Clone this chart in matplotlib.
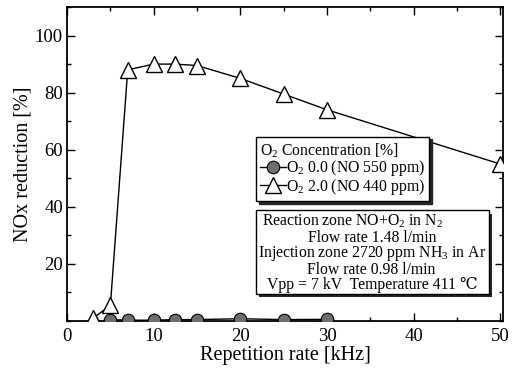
import matplotlib
matplotlib.use("Agg")
import matplotlib.pyplot as plt
from matplotlib.lines import Line2D
from matplotlib.patches import Rectangle
from matplotlib.ticker import MultipleLocator

plt.rcParams['font.family'] = ['Liberation Serif', 'DejaVu Serif']
plt.rcParams['mathtext.fontset'] = 'custom'
plt.rcParams['mathtext.rm'] = 'Liberation Serif'
plt.rcParams['mathtext.it'] = 'Liberation Serif:italic'

# O2 0.0 % (NO 550 ppm)
freq_o2_0 = [5, 7, 10, 12.5, 15, 20, 25, 30]
red_o2_0 = [0.5, 0.3, 0.3, 0.5, 0.5, 0.8, 0.5, 0.6]

# O2 2.0 % (NO 440 ppm)
freq_o2_2 = [3, 5, 7, 10, 12.5, 15, 20, 25, 30, 50]
red_o2_2 = [1, 5.5, 88, 90, 90, 89.5, 85, 79.5, 74, 55]

legend_title = "O$_2$ Concentration [%]"
label_o2_0 = "O$_2$ 0.0 (NO 550 ppm)"
label_o2_2 = "O$_2$ 2.0 (NO 440 ppm)"

cond_lines = [
    "Reaction zone NO+O$_2$ in N$_2$",
    "Flow rate 1.48 l/min",
    "Injection zone 2720 ppm NH$_3$ in Ar",
    "Flow rate 0.98 l/min",
    "Vpp = 7 kV  Temperature 411 \u2103",
]


def main():
    fig = plt.figure(figsize=(5.2, 3.69), dpi=100)
    ax = fig.add_axes([0.129, 0.130, 0.838, 0.851])

    ax.plot(freq_o2_0, red_o2_0, color='black', lw=1.0, marker='o',
            ms=9, mfc='#6e6e6e', mec='black', mew=0.8, zorder=3)
    ax.plot(freq_o2_2, red_o2_2, color='black', lw=1.0, marker='^',
            ms=11, mfc='white', mec='black', mew=1.0, zorder=4)

    ax.set_xlim(0, 50.3)
    ax.set_ylim(0, 110)
    ax.xaxis.set_major_locator(MultipleLocator(10))
    ax.xaxis.set_minor_locator(MultipleLocator(5))
    ax.yaxis.set_major_locator(MultipleLocator(20))
    ax.yaxis.set_minor_locator(MultipleLocator(10))
    ax.set_yticks([20, 40, 60, 80, 100])
    ax.tick_params(which='both', direction='in', top=True, right=True,
                   labelsize=13.5, width=1.0)
    ax.tick_params(which='major', length=6)
    ax.tick_params(which='minor', length=3)
    ax.tick_params(axis='x', pad=5)
    ax.tick_params(axis='y', pad=3)
    for s in ax.spines.values():
        s.set_linewidth(1.3)

    ax.set_xlabel("Repetition rate [kHz]", fontsize=14.5, labelpad=1)
    ax.set_ylabel("NOx reduction [%]", fontsize=14.5, labelpad=2)

    handles = [
        Line2D([], [], color='black', lw=1.0, marker='o', ms=9,
               mfc='#6e6e6e', mec='black', mew=0.8),
        Line2D([], [], color='black', lw=1.0, marker='^', ms=11,
               mfc='white', mec='black', mew=1.0),
    ]
    leg = ax.legend(handles, [label_o2_0, label_o2_2], title=legend_title,
                    loc='upper left', bbox_to_anchor=(0.433, 0.587),
                    borderaxespad=0, fancybox=False, fontsize=11.3,
                    title_fontsize=11.3, alignment='left', handlelength=1.6,
                    handletextpad=0.0, labelspacing=-0.1, borderpad=0.3,
                    framealpha=1, edgecolor='black',
                    shadow={'color': '0.15', 'alpha': 1})
    leg.get_frame().set_linewidth(1.0)

    # condition box
    bx0, by0, bx1, by1 = 0.433, 0.086, 0.968, 0.353
    ax.add_patch(Rectangle((bx0 + 0.008, by0 - 0.011), bx1 - bx0, by1 - by0,
                           transform=ax.transAxes, facecolor='0.15',
                           edgecolor='none', zorder=5))
    ax.add_patch(Rectangle((bx0, by0), bx1 - bx0, by1 - by0,
                           transform=ax.transAxes, facecolor='white',
                           edgecolor='black', lw=1.0, zorder=6))
    xs = [0.447, 0.552, 0.437, 0.55, 0.459]
    ys = [0.316, 0.265, 0.214, 0.163, 0.114]
    for x, y, t in zip(xs, ys, cond_lines):
        ax.text(x, y, t, transform=ax.transAxes, fontsize=11.3,
                ha='left', va='center', zorder=7)

    fig.savefig("out.png", dpi=100)


if __name__ == "__main__":
    main()
